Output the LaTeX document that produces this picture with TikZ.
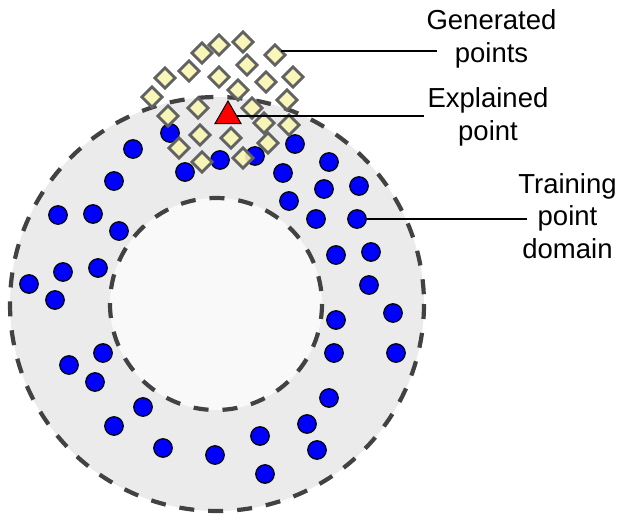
\documentclass[tikz,border=0pt]{standalone}
\usepackage{fontspec}
\setmainfont{Liberation Sans}
\usetikzlibrary{shapes.geometric}
\definecolor{ringgray}{HTML}{EBEBEB}
\definecolor{innerwhite}{HTML}{F9F9F9}
\definecolor{dashgray}{HTML}{424242}
\definecolor{genyellow}{HTML}{F8F5B2}
\definecolor{genborder}{HTML}{626262}
\tikzset{
  ringline/.style={draw=dashgray, line width=4.2pt, dash pattern=on 15pt off 14pt},
  trainpt/.style={circle, draw=black, line width=1.2pt, fill=blue, minimum size=18.5pt, inner sep=0pt},
  genpt/.style={diamond, draw=genborder, line width=2.8pt, fill=genyellow, fill opacity=0.9, minimum width=21.5pt, minimum height=21.5pt, inner sep=0pt},
  explpt/.style={regular polygon, regular polygon sides=3, draw=black, line width=1pt, fill=red, minimum size=30pt, inner sep=0pt},
  leader/.style={draw=black, line width=1.4pt},
  lbl/.style={font=\fontsize{27.5}{32.5}\selectfont, align=center, inner sep=0pt, anchor=base}
}
\begin{document}
\begin{tikzpicture}[x=1pt,y=-1pt]
\useasboundingbox (0,0) rectangle (623,522);
% ring
\fill[ringgray] (217,304) circle[radius=207];
\fill[innerwhite] (216,304) circle[radius=106];
\draw[ringline] (217,304) circle[radius=207];
\draw[ringline] (216,304) circle[radius=106];
% training points
\foreach \px/\py [count=\i] in {170/133,133/149,114/181,58/215,93/214,119/231,63/272,98/268,29/284,55/300,
  185/172,220/160,255/156,295/144,329/162,283/173,324/189,359/186,289/201,316/219,
  357/219,336/255,371/252,369/285,393/313,336/320,334/353,396/353,103/353,69/365,
  95/382,143/407,114/426,163/448,215/455,260/436,265/474,307/424,317/450,329/398}
  \node[trainpt] (t\i) at (\px,\py) {};
% generated points
\foreach \px/\py [count=\i] in {219/45,243/42,202/53,275/55,189/71,165/78,247/65,219/77,266/82,293/77,
  152/97,238/90,287/100,198/108,168/116,252/108,264/123,289/125,200/135,231/138,
  268/143,179/148,202/162,243/158}
  \node[genpt] (g\i) at (\px,\py) {};
% explained point
\node[explpt] (ex) at (228,116) {};
% labels (base anchor = baseline of last line)
\node[lbl] (lgen) at (491.5,62) {Generated\\points};
\node[lbl] (lexp) at (488,140) {Explained\\point};
\node[lbl] (ltrain) at (567.5,258) {Training\\point\\domain};
\coordinate (egen) at (437,51);
\coordinate (eexp) at (424,116);
\coordinate (etrain) at (527,219);
\draw[leader] (g4.north east |- egen) -- (egen);
\draw[leader] (ex) -- (eexp);
\draw[leader] (t21) -- (etrain);
\end{tikzpicture}
\end{document}
